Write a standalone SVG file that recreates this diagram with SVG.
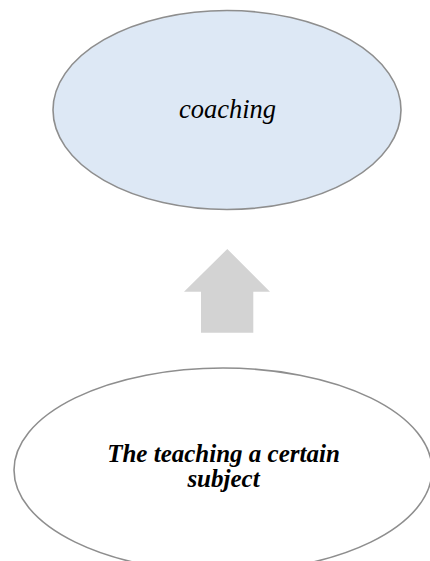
<svg xmlns="http://www.w3.org/2000/svg" width="430" height="561" viewBox="0 0 430 561">
<style>
.node{stroke:#8e8e8e;stroke-width:1.6}
.t{font-family:'Liberation Serif','DejaVu Serif',serif;font-style:italic;fill:#000;text-anchor:middle}
</style>
<rect width="430" height="561" fill="#fff"/>
<g id="connectors">
<path d="M227.3,249 L270,291.7 L253.3,291.7 L253.3,332.7 L201,332.7 L201,291.7 L184,291.7 Z" fill="#d3d3d3"/>
</g>
<g id="coaching">
<ellipse class="node" cx="227" cy="110" rx="174" ry="99.5" fill="#dde8f5"/>
<text class="t" x="227.5" y="118" font-size="26.5" font-family="Liberation Serif">coaching</text>
</g>
<g id="teaching">
<ellipse class="node" cx="223" cy="470" rx="209" ry="102" fill="#fff"/>
<text class="t" x="223.5" y="462" font-size="25" font-weight="bold">The teaching a certain</text>
<text class="t" x="223.5" y="487" font-size="25" font-weight="bold">subject</text>
</g>
</svg>
